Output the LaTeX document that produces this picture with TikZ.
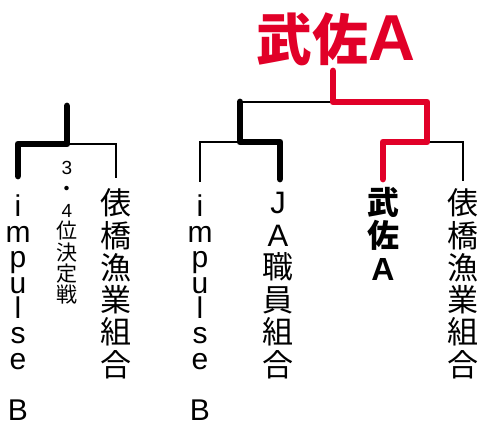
\documentclass[tikz,border=0pt]{standalone}
\usepackage{fontspec}
\setmainfont{Noto Sans CJK JP}
\newfontfamily\latinfont{Liberation Sans}
\usepackage{xcolor}
\definecolor{winred}{RGB}{225,0,40}
\tikzset{>=latex}

\begin{document}
\begin{tikzpicture}[x=1pt, y=-1pt,
    lose/.style={line width=2.6pt},
    win/.style={line width=6.8pt, line cap=round, line join=round},
    kanji/.style={anchor=base, inner sep=0pt, text height=26pt, text depth=3pt,
      font=\fontsize{31}{31}\selectfont},
    roman/.style={anchor=base, inner sep=0pt, text height=17pt, text depth=5pt,
      font=\latinfont\fontsize{30}{30}\selectfont},
    small/.style={anchor=base, inner sep=0pt, text height=16pt, text depth=2pt,
      font=\fontsize{21}{21}\selectfont}]
  \useasboundingbox (0, 0) rectangle (480, 425);
  % champion
  \node[anchor=base west, inner sep=0pt, text=winred, font=\bfseries\fontsize{56}{56}\selectfont]
    (champ) at (256, 61) {武佐{\latinfont\fontsize{65}{65}\selectfont A}};
  % joints of the bracket
  \coordinate (top) at (333, 71);
  \coordinate (final) at (333, 102);
  \coordinate (semi1) at (240, 142);
  \coordinate (semi2) at (427, 142);
  \coordinate (third) at (67, 144);
  \coordinate (thirdtop) at (67, 106);
  % ends above the teams
  \coordinate (a) at (18, 176);
  \coordinate (b) at (116, 178);
  \coordinate (c) at (200, 182);
  \coordinate (d) at (280, 179);
  \coordinate (e) at (383, 179);
  \coordinate (f) at (463, 181);
  % lines
  \draw[lose] (third) -| (b);
  \draw[lose] (c) |- (semi1);
  \draw[lose] (semi1 |- final) -- (final);
  \draw[lose] (semi2) -| (f);
  \draw[win] (a) |- (third) -- (thirdtop);
  \draw[win] (d) |- (semi1) -- (semi1 |- final);
  \draw[win, winred] (e) |- (semi2) |- (final) -- (top);
  % teams
  \foreach \ch/\k in {i/0, m/1, p/2, u/3, l/4, s/5, e/6, B/8} {
    \node[roman] (impL\k) at (18, 217 + 25.4*\k) {\ch};
    \node[roman] (impR\k) at (200, 217 + 25.4*\k) {\ch};
  }
  \foreach \ch [count=\k from 0] in {俵, 橋, 漁, 業, 組, 合} {
    \node[kanji] (tawaL\k) at (116, 215 + 32.2*\k) {\ch};
    \node[kanji] (tawaR\k) at (463, 215 + 32.2*\k) {\ch};
  }
  \foreach \ch [count=\k from 0] in {{\latinfont J}, {\latinfont A}, 職, 員, 組, 合}
    \node[kanji] (ja\k) at (278, 214 + 32.4*\k) {\ch};
  \foreach \ch [count=\k from 0] in {武, 佐, {\latinfont A}}
    \node[kanji, font=\bfseries\fontsize{32}{32}\selectfont] (musa\k) at (383, 215 + 32.5*\k) {\ch};
  % 3rd place match
  \foreach \ch [count=\k from 0] in {{\latinfont\fontsize{19}{19}\selectfont 3}, ・,
      {\latinfont\fontsize{19}{19}\selectfont 4}, 位, 決, 定, 戦}
    \node[small] (place\k) at (67, 175 + 21.3*\k) {\ch};
\end{tikzpicture}
\end{document}
